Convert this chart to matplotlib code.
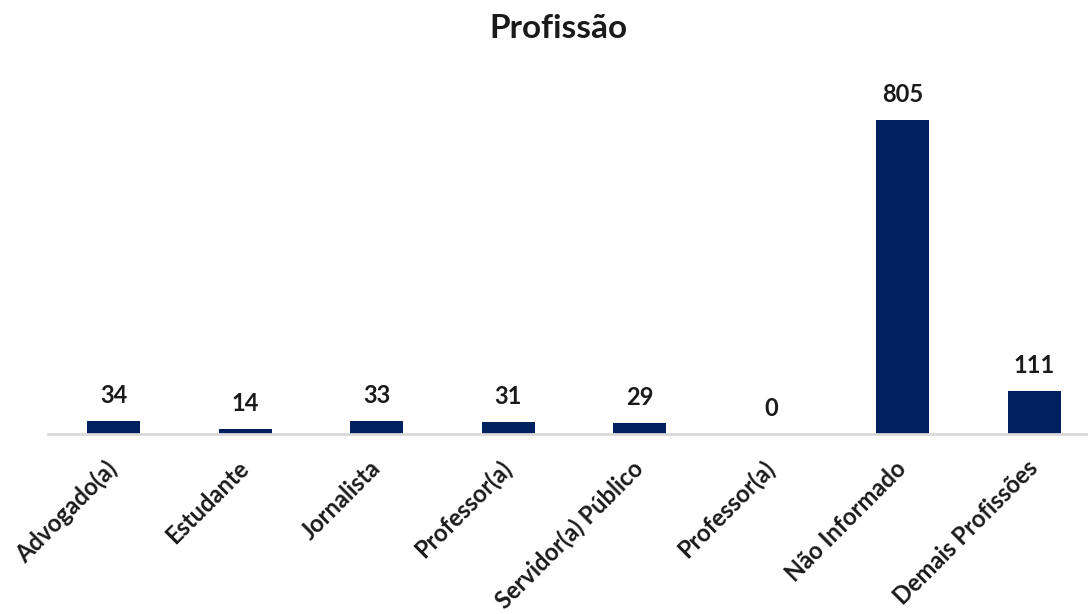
import matplotlib.pyplot as plt

plt.rcParams['font.family'] = ['Lato', 'DejaVu Sans']

categorias = ["Advogado(a)", "Estudante", "Jornalista", "Professor(a)",
              "Servidor(a) Público", "Professor(a)", "Não Informado",
              "Demais Profissões"]
valores = [34, 14, 33, 31, 29, 0, 805, 111]

fig = plt.figure(figsize=(10.88, 6.14), dpi=100)
# axes stretches a bit past the right edge, like the original crop
ax = fig.add_axes([48 / 1088, (614 - 434) / 614, 1052 / 1088, 351 / 614])

x = range(len(categorias))
barras = ax.bar(x, valores, width=0.4, color="#002060")

for b, v in zip(barras, valores):
    ax.annotate(str(v), (b.get_x() + b.get_width() / 2, v),
                xytext=(0, 10), textcoords="offset points",
                ha="center", va="bottom", fontsize=17, fontweight="bold",
                color="#1a1a1a")

ax.set_xlim(-0.5, len(categorias) - 0.5)
ax.set_ylim(0, 900)
ax.set_xticks(list(x))
ax.set_xticklabels(categorias, rotation=45, ha="right", va="center",
                   rotation_mode="anchor",
                   fontsize=17, fontweight="bold", color="#1a1a1a")
ax.tick_params(axis="x", length=0, pad=22)
ax.set_yticks([])
for s in ["top", "right", "left"]:
    ax.spines[s].set_visible(False)
ax.spines["bottom"].set_color("#d9d9d9")
ax.spines["bottom"].set_linewidth(2)

fig.text(558 / 1088, 1 - 28 / 614, "Profissão", ha="center", va="center",
         fontsize=24, fontweight="bold", color="#1a1a1a")

fig.savefig("out.png", dpi=100)
